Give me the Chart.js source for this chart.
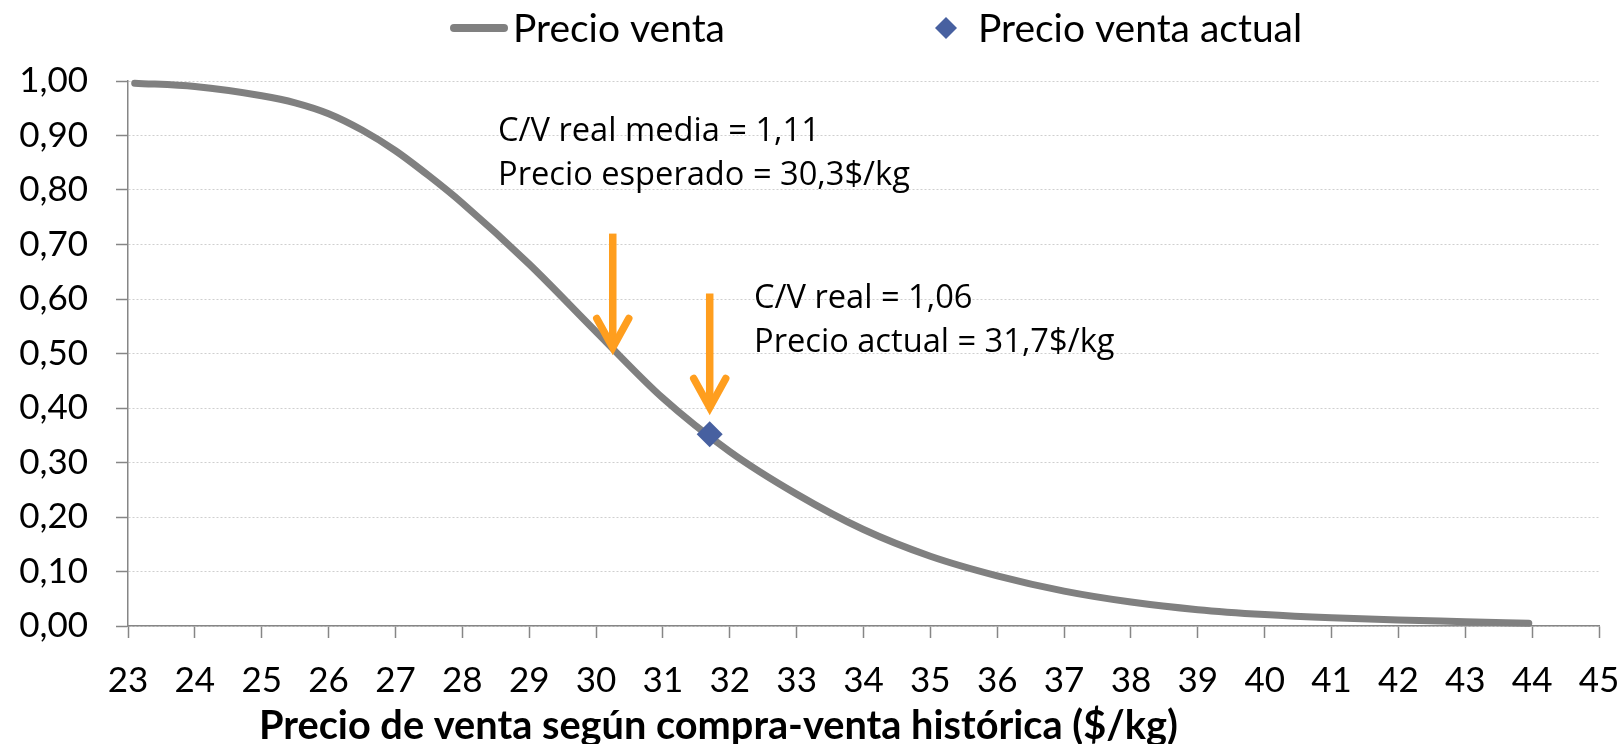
<!DOCTYPE html>
<html>
<head>
<meta charset="utf-8">
<script src="https://cdn.jsdelivr.net/npm/chart.js@4/dist/chart.umd.min.js"></script>
<style>
  html, body { margin: 0; padding: 0; background: #fff; }
  #wrap { width: 1623px; height: 744px; position: relative; }
  canvas { display: block; }
</style>
</head>
<body>
<div id="wrap"><canvas id="c" width="1623" height="744"></canvas></div>
<script>
// ---------------- DATA ----------------
const priceX = [23.1, 24, 25, 25.5, 26, 26.5, 27, 27.5, 28, 29, 30, 31, 32, 33, 34, 35, 36, 37, 38, 39, 40, 41, 42, 43, 43.95];
const probY  = [0.996, 0.990, 0.973, 0.960, 0.940, 0.910, 0.872, 0.826, 0.776, 0.664, 0.540, 0.418, 0.320, 0.242, 0.177, 0.128, 0.092, 0.064, 0.044, 0.030, 0.021, 0.015, 0.011, 0.008, 0.005];
const actualX = [31.7];
const actualY = [0.352];
const seriesNames = ['Precio venta', 'Precio venta actual'];
const xTickValues = [23, 24, 25, 26, 27, 28, 29, 30, 31, 32, 33, 34, 35, 36, 37, 38, 39, 40, 41, 42, 43, 44, 45];
const xTickLabels = ['23','24','25','26','27','28','29','30','31','32','33','34','35','36','37','38','39','40','41','42','43','44','45'];
const yTickValues = [0, 0.1, 0.2, 0.3, 0.4, 0.5, 0.6, 0.7, 0.8, 0.9, 1.0];
const yTickLabels = ['0,00','0,10','0,20','0,30','0,40','0,50','0,60','0,70','0,80','0,90','1,00'];
const xAxisTitle = 'Precio de venta según compra-venta histórica ($/kg)';
const arrowX    = [30.25, 31.7];
const arrowFrom = [0.72, 0.61];
const arrowTo   = [0.50, 0.39];
const noteLines = [
  ['C/V real media = 1,11', 'Precio esperado = 30,3$/kg'],
  ['C/V real = 1,06', 'Precio actual = 31,7$/kg']
];

// ---------------- STYLE ----------------
const TICK_FONT = 'Lato';
const NOTE_FONT = 'Open Sans';
const LINE_COLOR = '#808080';
const MARK_COLOR = '#4760A0';
const ARROW_COLOR = '#FF9E1E';
const AXIS_COLOR = '#868686';
const GRID_COLOR = '#CFCFCF';

function fitSize(ctx, text, weight, family, width) {
  ctx.font = weight + ' 100px "' + family + '"';
  return 100 * width / ctx.measureText(text).width;
}

const decor = {
  id: 'decor',
  afterDatasetsDraw(chart) {
    const ctx = chart.ctx;
    const xs = chart.scales.x, ys = chart.scales.y;
    ctx.save();
    ctx.strokeStyle = ARROW_COLOR;
    ctx.lineWidth = 7.5;
    for (let i = 0; i < arrowX.length; i++) {
      const px = xs.getPixelForValue(arrowX[i]);
      const top = ys.getPixelForValue(arrowFrom[i]);
      const tip = ys.getPixelForValue(arrowTo[i]) - 6;
      ctx.lineCap = 'butt';
      ctx.beginPath(); ctx.moveTo(px, top); ctx.lineTo(px, tip); ctx.stroke();
      ctx.lineCap = 'round'; ctx.lineJoin = 'miter'; ctx.miterLimit = 10;
      ctx.beginPath();
      ctx.moveTo(px - 16, tip - 29); ctx.lineTo(px, tip); ctx.lineTo(px + 16, tip - 29);
      ctx.stroke();
    }
    ctx.restore();
  },
  afterDraw(chart) {
    const ctx = chart.ctx;
    ctx.save();
    ctx.textBaseline = 'alphabetic';
    ctx.textAlign = 'left';
    ctx.fillStyle = '#000';
    const ns = fitSize(ctx, noteLines[0][1], '400', NOTE_FONT, 412);
    ctx.font = '400 ' + ns + 'px "' + NOTE_FONT + '"';
    const noteAnchors = [[498, 141], [754, 308]];
    noteLines.forEach((lines, k) => {
      lines.forEach((t, j) => ctx.fillText(t, noteAnchors[k][0], noteAnchors[k][1] + j * 44));
    });
    ctx.strokeStyle = LINE_COLOR; ctx.lineWidth = 8; ctx.lineCap = 'round';
    ctx.beginPath(); ctx.moveTo(454, 28); ctx.lineTo(504, 28); ctx.stroke();
    const ls = fitSize(ctx, seriesNames[0], '400', TICK_FONT, 212);
    ctx.font = '400 ' + ls + 'px "' + TICK_FONT + '"';
    ctx.fillText(seriesNames[0], 513, 42);
    ctx.fillStyle = MARK_COLOR;
    ctx.beginPath(); ctx.moveTo(935, 28); ctx.lineTo(946, 17); ctx.lineTo(957, 28); ctx.lineTo(946, 39); ctx.closePath(); ctx.fill();
    ctx.fillStyle = '#000';
    ctx.fillText(seriesNames[1], 978, 42);
    const ts = fitSize(ctx, xAxisTitle, '700', TICK_FONT, 919);
    ctx.font = '700 ' + ts + 'px "' + TICK_FONT + '"';
    ctx.fillText(xAxisTitle, 259, 739);
    ctx.restore();
  }
};

new Chart(document.getElementById('c'), {
  type: 'scatter',
  data: {
    datasets: [
      {
        type: 'line',
        label: seriesNames[0],
        data: priceX.map((x, i) => ({ x: x, y: probY[i] })),
        borderColor: LINE_COLOR,
        backgroundColor: LINE_COLOR,
        borderWidth: 7,
        pointRadius: 0,
        pointHoverRadius: 0,
        cubicInterpolationMode: 'monotone',
        borderCapStyle: 'round',
        borderJoinStyle: 'round',
        fill: false,
        clip: false,
        order: 2
      },
      {
        label: seriesNames[1],
        data: actualX.map((x, i) => ({ x: x, y: actualY[i] })),
        pointStyle: 'rectRot',
        pointRadius: 13,
        pointHoverRadius: 13,
        backgroundColor: MARK_COLOR,
        borderColor: MARK_COLOR,
        borderWidth: 0,
        clip: false,
        order: 1
      }
    ]
  },
  options: {
    responsive: false,
    animation: false,
    devicePixelRatio: 1,
    events: [],
    layout: { padding: { top: 81, right: 24, bottom: 0, left: 0 } },
    plugins: { legend: { display: false }, tooltip: { enabled: false }, title: { display: false } },
    scales: {
      x: {
        type: 'linear', min: 23, max: 45,
        afterBuildTicks: s => { s.ticks = xTickValues.map(v => ({ value: v })); },
        afterFit: s => { s.height = 118; s.paddingLeft = 0; s.paddingRight = 0; },
        ticks: {
          callback: (v, i) => xTickLabels[i],
          font: { family: TICK_FONT, size: 35 },
          color: '#000', padding: 22, maxRotation: 0, autoSkip: false
        },
        grid: { drawOnChartArea: false, drawTicks: true, tickLength: 12, tickColor: AXIS_COLOR, tickWidth: 1.5 },
        border: { display: true, color: AXIS_COLOR, width: 1.5 }
      },
      y: {
        type: 'linear', min: 0, max: 1,
        afterBuildTicks: s => { s.ticks = yTickValues.map(v => ({ value: v })); },
        afterFit: s => { s.width = 128; s.paddingTop = 0; s.paddingBottom = 0; },
        ticks: {
          callback: (v, i) => yTickLabels[i],
          font: { family: TICK_FONT, size: 35 },
          color: '#000', padding: 28, autoSkip: false
        },
        grid: { drawOnChartArea: true, drawTicks: true, tickLength: 12, color: GRID_COLOR, lineWidth: 1, tickColor: AXIS_COLOR, tickWidth: 1.5, tickBorderDash: [] },
        border: { display: true, color: AXIS_COLOR, width: 1.5, dash: [2, 2] }
      }
    }
  },
  plugins: [decor]
});
</script>
</body>
</html>
